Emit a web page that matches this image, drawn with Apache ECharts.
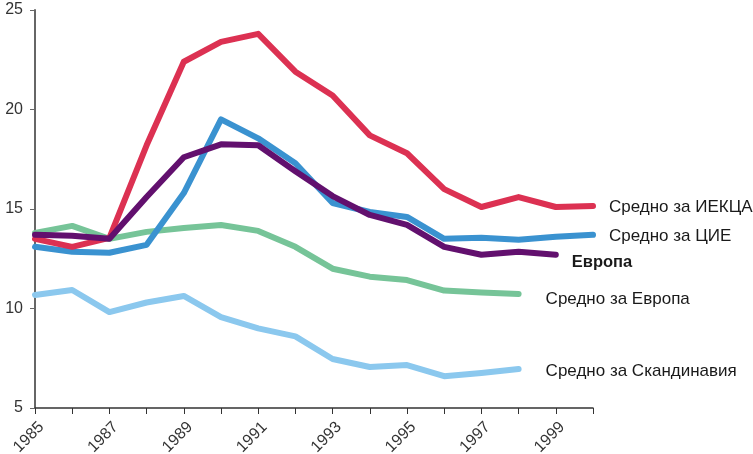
<!DOCTYPE html>
<html><head><meta charset="utf-8">
<script src="https://cdn.jsdelivr.net/npm/echarts@6/dist/echarts.min.js"></script>
<style>html,body{margin:0;padding:0;background:#fff}#c{width:753px;height:454px}</style>
</head><body><div id="c"></div>
<script>
const years = ['1985','1986','1987','1988','1989','1990','1991','1992','1993','1994','1995','1996','1997','1998','1999','2000'];
const yearLabels = [1985,1987,1989,1991,1993,1995,1997,1999];
const ieckaAvg = [13.5,13.1,13.55,18.2,22.4,23.4,23.8,21.9,20.7,18.7,17.8,16.0,15.1,15.6,15.1,15.15];
const cieAvg   = [13.1,12.85,12.8,13.2,15.8,19.5,18.55,17.3,15.3,14.85,14.6,13.5,13.55,13.45,13.6,13.7];
const europe   = [13.7,13.65,13.5,15.6,17.6,18.25,18.2,16.9,15.65,14.7,14.2,13.1,12.7,12.85,12.7,null];
const europeAvg= [13.8,14.15,13.5,13.85,14.05,14.2,13.9,13.1,12.0,11.6,11.43,10.9,10.8,10.73,null,null];
const scandAvg = [10.68,10.93,9.82,10.3,10.63,9.57,9.0,8.6,7.46,7.06,7.16,6.6,6.76,6.96,null,null];

const FONT = 'Liberation Sans, Arial, sans-serif';
function mk(name, data, color, dist, off, bold){
  return {
    name, type:'line', data, showSymbol:false, symbol:'none', xAxisIndex:0,
    lineStyle:{width:6,color,cap:'round',join:'round'},
    itemStyle:{color},
    endLabel:{show:true, formatter:name, distance:dist, offset:off,
      color:'#1a1a1a', fontSize:bold?16.5:17, fontFamily:FONT, fontWeight: bold?'bold':'normal'}
  };
}
const shift = 0.02; // label anchor shift in years
const chart = echarts.init(document.getElementById('c'));
chart.setOption({
  animation:false,
  grid:{left:35,right:160,top:10,bottom:46,containLabel:false,outerBoundsMode:'none'},
  xAxis:[
    {type:'category',data:years,boundaryGap:false,
      axisLine:{lineStyle:{color:'#333',width:1.5}},
      axisTick:{show:true,interval:0,length:6,lineStyle:{color:'#333'}},
      axisLabel:{show:false}},
    {type:'value',position:'bottom',min:1985-shift,max:2000-shift,
      axisLine:{show:false},axisTick:{show:false},splitLine:{show:false},
      axisLabel:{customValues:yearLabels,rotate:45,align:'right',verticalAlign:'top',
        color:'#333',fontSize:16,fontFamily:FONT,margin:11,
        formatter:v=>String(Math.round(v))}}
  ],
  yAxis:{type:'value',min:5,max:25,interval:5,
    splitLine:{show:false},
    axisLine:{show:true,lineStyle:{color:'#666',width:2}},
    axisTick:{show:true,length:5,lineStyle:{color:'#666'}},
    axisLabel:{color:'#333',fontSize:16,fontFamily:FONT,margin:12}},
  series:[
    mk('Средно за Скандинавия', scandAvg, '#8BC8EE', 27, [0,2]),
    mk('Средно за Европа', europeAvg, '#76C498', 27, [0,5]),
    mk('Средно за ЦИЕ', cieAvg, '#3A92D0', 16, [0,1]),
    mk('Средно за ИЕКЦА', ieckaAvg, '#DC3152', 16, [0,1]),
    mk('Европа', europe, '#62106E', 16, [0,8], true)
  ]
});
</script></body></html>
